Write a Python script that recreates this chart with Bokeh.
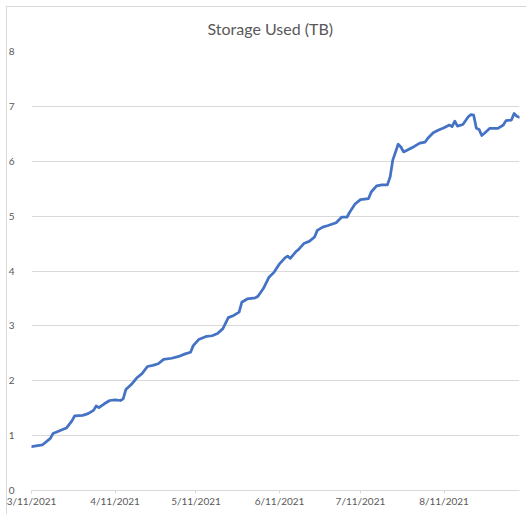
from datetime import datetime
from bokeh.plotting import figure
from bokeh.models import FixedTicker, DatetimeTickFormatter, Range1d, ColumnDataSource
from bokeh.embed import file_html
from bokeh.resources import INLINE

# ---- data ----
dates = [
    "2021-03-11", "2021-03-15", "2021-03-18", "2021-03-19", "2021-03-21", "2021-03-23", "2021-03-24",
    "2021-03-26", "2021-03-27", "2021-03-30", "2021-04-01", "2021-04-03", "2021-04-04", "2021-04-05",
    "2021-04-07", "2021-04-09", "2021-04-11", "2021-04-13", "2021-04-14", "2021-04-15", "2021-04-17",
    "2021-04-19", "2021-04-21", "2021-04-23", "2021-04-25", "2021-04-27", "2021-04-29", "2021-05-02",
    "2021-05-05", "2021-05-07", "2021-05-09", "2021-05-10", "2021-05-12", "2021-05-15", "2021-05-17",
    "2021-05-19", "2021-05-21", "2021-05-23", "2021-05-25", "2021-05-27", "2021-05-28", "2021-05-30",
    "2021-06-02", "2021-06-03", "2021-06-05", "2021-06-07", "2021-06-09", "2021-06-11", "2021-06-13",
    "2021-06-14", "2021-06-15", "2021-06-17", "2021-06-18", "2021-06-20", "2021-06-22", "2021-06-24",
    "2021-06-25", "2021-06-27", "2021-06-29", "2021-07-02", "2021-07-04", "2021-07-06", "2021-07-07",
    "2021-07-09", "2021-07-11", "2021-07-14", "2021-07-15", "2021-07-17", "2021-07-19", "2021-07-21",
    "2021-07-22", "2021-07-23", "2021-07-25", "2021-07-26", "2021-07-27", "2021-07-29", "2021-07-31",
    "2021-08-02", "2021-08-04", "2021-08-05", "2021-08-07", "2021-08-09", "2021-08-11", "2021-08-13",
    "2021-08-14", "2021-08-15", "2021-08-16", "2021-08-18", "2021-08-20", "2021-08-21", "2021-08-22",
    "2021-08-23", "2021-08-24", "2021-08-25", "2021-08-26", "2021-08-28", "2021-08-31", "2021-09-02",
    "2021-09-03", "2021-09-05", "2021-09-06", "2021-09-07", "2021-09-08",
]
storage_tb = [
    0.80, 0.83, 0.95, 1.04, 1.08, 1.12, 1.14,
    1.27, 1.36, 1.37, 1.40, 1.46, 1.54, 1.51,
    1.58, 1.64, 1.65, 1.64, 1.67, 1.84, 1.93,
    2.05, 2.13, 2.26, 2.28, 2.31, 2.39, 2.41,
    2.45, 2.49, 2.52, 2.64, 2.75, 2.81, 2.82,
    2.86, 2.95, 3.15, 3.19, 3.25, 3.43, 3.49,
    3.51, 3.54, 3.68, 3.88, 3.98, 4.13, 4.24,
    4.27, 4.23, 4.35, 4.39, 4.50, 4.54, 4.62,
    4.74, 4.80, 4.83, 4.88, 4.98, 4.98, 5.07,
    5.22, 5.30, 5.32, 5.44, 5.55, 5.57, 5.57,
    5.71, 6.02, 6.31, 6.26, 6.17, 6.22, 6.27,
    6.33, 6.35, 6.42, 6.52, 6.57, 6.61, 6.66,
    6.63, 6.73, 6.64, 6.67, 6.81, 6.85, 6.84,
    6.60, 6.58, 6.47, 6.51, 6.60, 6.60, 6.66,
    6.74, 6.75, 6.87, 6.82, 6.80,
]
tick_dates = ["2021-03-11", "2021-04-11", "2021-05-11", "2021-06-11", "2021-07-11", "2021-08-11"]
y_ticks = [0, 1, 2, 3, 4, 5, 6, 7, 8]
title_text = "Storage Used (TB)"

# ---- build ----
xs = [datetime.strptime(d, "%Y-%m-%d") for d in dates]
src = ColumnDataSource(dict(x=xs, y=storage_tb))
tick_ms = [datetime.strptime(d, "%Y-%m-%d").timestamp() * 1000 for d in tick_dates]

TXT = "#595959"
GRID = "#d9d9d9"

p = figure(
    width=526, height=514, x_axis_type="datetime",
    output_backend="svg", toolbar_location=None,
    x_range=Range1d(xs[0], xs[-1]), y_range=Range1d(0, 8),
    min_border_left=31, min_border_right=7, min_border_top=51, min_border_bottom=24,
    title=title_text,
    styles={"box-shadow": "inset 6px 6px 0 0 white, inset 7px 7px 0 0 #d9d9d9"},
)
p.outline_line_color = None
p.background_fill_color = None
p.border_fill_color = None

p.title.align = "left"
p.title.offset = 176
p.title.text_font = "Lato"
p.title.text_font_size = "16px"
p.title.text_font_style = "normal"
p.title.text_color = TXT
p.title.standoff = 27

p.line("x", "y", source=src, line_color="#4472C4", line_width=2.75, line_join="round", line_cap="round")

xa = p.xaxis[0]
xa.ticker = FixedTicker(ticks=tick_ms)
xa.formatter = DatetimeTickFormatter(days="%-m/%d/%Y", months="%-m/%d/%Y", years="%-m/%d/%Y")
xa.axis_line_color = GRID
xa.major_tick_line_color = GRID
xa.major_tick_out = 3
xa.major_tick_in = 0
xa.minor_tick_line_color = None
xa.major_label_text_font = "Lato"
xa.major_label_text_font_size = "10px"
xa.major_label_text_color = TXT
xa.major_label_standoff = 1

ya = p.yaxis[0]
ya.ticker = FixedTicker(ticks=y_ticks)
ya.axis_line_color = None
ya.major_tick_line_color = None
ya.minor_tick_line_color = None
ya.major_label_text_font = "Lato"
ya.major_label_text_font_size = "10px"
ya.major_label_text_color = TXT
ya.major_label_standoff = 11

p.xgrid.grid_line_color = None
p.ygrid.grid_line_color = GRID
p.ygrid.grid_line_width = 1

open("out.html", "w").write(file_html(p, INLINE))
